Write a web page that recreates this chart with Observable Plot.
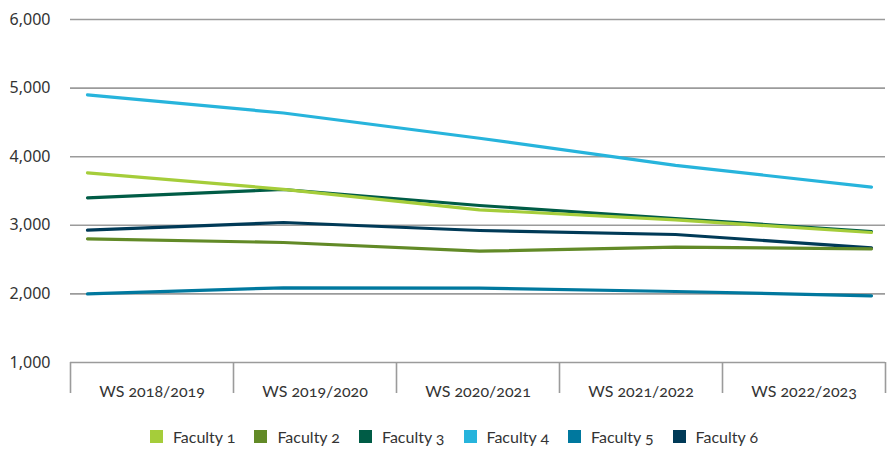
<!DOCTYPE html>
<html>
<head>
<meta charset="utf-8">
<script src="https://cdn.jsdelivr.net/npm/d3@7"></script>
<script src="https://cdn.jsdelivr.net/npm/@observablehq/plot@0.6"></script>
<style>
  body { margin: 0; background: #fff; }
  #chart { position: relative; width: 893px; height: 410px; }
  #chart svg { position: absolute; left: 0; top: 0; background: transparent; }
  #legend { width: 859px; padding-left: 34px; display: flex; justify-content: center; margin-top: 10px; }
  div.lg-swatches { justify-content: center; font-family: Lato, sans-serif; font-size: 16px; color: #333; font-variant-numeric: oldstyle-nums; margin: 0; }
  div.lg-swatches .lg-swatch { margin-right: 19px; }
  div.lg-swatches .lg-swatch svg { margin-right: 10px; }
</style>
</head>
<body>
<div id="chart"></div>
<div id="legend"></div>
<script>
const seasons = ["WS 2018/2019", "WS 2019/2020", "WS 2020/2021", "WS 2021/2022", "WS 2022/2023"];
const faculties = ["Faculty 1", "Faculty 2", "Faculty 3", "Faculty 4", "Faculty 5", "Faculty 6"];
const faculty1 = [3765, 3525, 3226, 3080, 2895];
const faculty2 = [2803, 2749, 2623, 2681, 2657];
const faculty3 = [3401, 3522, 3289, 3099, 2910];
const faculty4 = [4900, 4637, 4269, 3873, 3556];
const faculty5 = [2001, 2089, 2085, 2035, 1972];
const faculty6 = [2929, 3041, 2924, 2866, 2672];
const colors = ["#a5cd3a", "#628a27", "#005c46", "#27b4dc", "#00789e", "#003a57"];
const yTicks = [1000, 2000, 3000, 4000, 5000, 6000];

const series = [faculty1, faculty2, faculty3, faculty4, faculty5, faculty6];
const rows = [];
// draw later faculties first so Faculty 1 ends on top
for (let f = faculties.length - 1; f >= 0; f--) {
  series[f].forEach((v, i) => rows.push({faculty: faculties[f], season: seasons[i], value: v}));
}

const W = 893, H = 410, ML = 70, MR = 8, MT = 19, MB = 48;
const gray = "#9b9b9b";

const axes = Plot.plot({
  width: W, height: H, marginLeft: ML, marginRight: MR, marginTop: MT, marginBottom: MB,
  x: {type: "linear", domain: [0, seasons.length], axis: null},
  y: {domain: [1000, 6000], axis: null},
  marks: [
    Plot.ruleY(yTicks, {stroke: gray, strokeWidth: 1.6}),
    Plot.axisY({ticks: yTicks, tickFormat: d3.format(","), tickSize: 0, tickPadding: 20, label: null,
      fontSize: 16, fontFamily: "'Noto Sans', sans-serif", fill: "#333"}),
    Plot.axisX({ticks: d3.range(seasons.length + 1), tickFormat: () => "", tickSize: 31, stroke: gray, strokeWidth: 1.6, label: null}),
    Plot.axisX({ticks: d3.range(seasons.length).map(i => i + 0.5), tickFormat: d => seasons[Math.round(d - 0.5)],
      tickSize: 0, tickPadding: 23, label: null, fontSize: 16, fontFamily: "Lato, sans-serif", fill: "#333"})
  ]
});
axes.querySelectorAll("text").forEach(t => t.style.fontVariantNumeric = "oldstyle-nums");
axes.querySelectorAll('g[aria-label="y-axis tick label"] text').forEach(t => t.style.fontVariantNumeric = "normal");

const lines = Plot.plot({
  width: W, height: H, marginLeft: ML, marginRight: MR, marginTop: MT, marginBottom: MB,
  insetLeft: 16, insetRight: 13,
  x: {type: "point", domain: seasons, padding: 0, axis: null},
  y: {domain: [1000, 6000], axis: null},
  color: {domain: faculties, range: colors},
  marks: [
    Plot.line(rows, {x: "season", y: "value", z: "faculty", stroke: "faculty", strokeWidth: 3.2, strokeLinejoin: "round"})
  ]
});
lines.style.pointerEvents = "none";

document.getElementById("chart").append(axes, lines);

const legend = Plot.legend({
  color: {type: "ordinal", domain: faculties, range: colors},
  swatchSize: 13, className: "lg"
});
document.getElementById("legend").append(legend);
</script>
</body>
</html>
